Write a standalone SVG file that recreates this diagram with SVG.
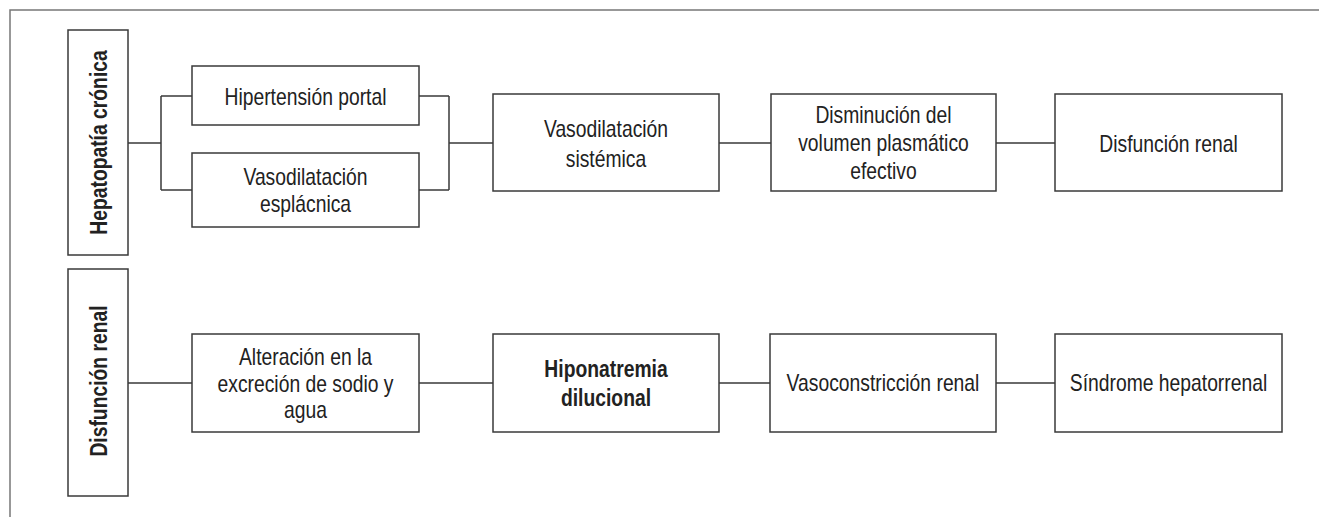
<svg xmlns="http://www.w3.org/2000/svg" width="1319" height="517" viewBox="0 0 1319 517">
<style>
.box{fill:#fff;stroke:#3a3a3a;stroke-width:1.5}
.ln{fill:none;stroke:#3a3a3a;stroke-width:1.5}
.frame{fill:none;stroke:#777;stroke-width:1.5}
text{font-family:"Liberation Sans",Arial,sans-serif;font-size:23px;fill:#222;text-anchor:middle}
.b{font-weight:bold}
</style>
<rect width="1319" height="517" fill="#fff"/>
<path class="frame" d="M10,517 V10 H1319"/>
<g id="connectors">
<path class="ln" d="M128,143 H161 M161,96 V190 M161,96 H192 M161,190 H192"/>
<path class="ln" d="M419,96 H449 M419,190 H449 M449,96 V190 M449,143 H493"/>
<path class="ln" d="M719,143 H771 M996,143 H1055"/>
<path class="ln" d="M128,383 H192 M419,383 H493 M719,383 H770 M996,383 H1055"/>
</g>
<g id="hepatopatia">
<rect class="box" x="68" y="30" width="60" height="225"/>
<text class="b" transform="translate(107 142.5) rotate(-90) scale(0.84 1)">Hepatopatía crónica</text>
</g>
<g id="hipertension">
<rect class="box" x="192" y="66" width="227" height="59"/>
<text transform="translate(305.5 0) scale(0.84 1)" y="105">Hipertensión portal</text>
</g>
<g id="vasodil-esplacnica">
<rect class="box" x="192" y="153" width="227" height="74"/>
<text transform="translate(305.5 0) scale(0.84 1)"><tspan x="0" y="185">Vasodilatación</tspan><tspan x="0" y="212">esplácnica</tspan></text>
</g>
<g id="vasodil-sistemica">
<rect class="box" x="493" y="94" width="226" height="97"/>
<text transform="translate(606 0) scale(0.84 1)"><tspan x="0" y="137.5">Vasodilatación</tspan><tspan x="0" y="167">sistémica</tspan></text>
</g>
<g id="disminucion">
<rect class="box" x="771" y="94" width="225" height="97"/>
<text transform="translate(883.5 0) scale(0.84 1)"><tspan x="0" y="123">Disminución del</tspan><tspan x="0" y="151">volumen plasmático</tspan><tspan x="0" y="179">efectivo</tspan></text>
</g>
<g id="disfuncion-top">
<rect class="box" x="1055" y="94" width="227" height="97"/>
<text transform="translate(1168.5 0) scale(0.84 1)" y="152">Disfunción renal</text>
</g>
<g id="disfuncion-vert">
<rect class="box" x="68" y="269" width="60" height="227"/>
<text class="b" transform="translate(107 381) rotate(-90) scale(0.84 1)">Disfunción renal</text>
</g>
<g id="alteracion">
<rect class="box" x="192" y="334" width="227" height="98"/>
<text transform="translate(305.5 0) scale(0.84 1)"><tspan x="0" y="365">Alteración en la</tspan><tspan x="0" y="392">excreción de sodio y</tspan><tspan x="0" y="418">agua</tspan></text>
</g>
<g id="hiponatremia">
<rect class="box" x="493" y="334" width="226" height="98"/>
<text class="b" transform="translate(606 0) scale(0.84 1)"><tspan x="0" y="377">Hiponatremia</tspan><tspan x="0" y="406">dilucional</tspan></text>
</g>
<g id="vasoconstriccion">
<rect class="box" x="770" y="334" width="226" height="98"/>
<text transform="translate(883 0) scale(0.84 1)" y="391.5">Vasoconstricción renal</text>
</g>
<g id="sindrome">
<rect class="box" x="1055" y="334" width="227" height="98"/>
<text transform="translate(1168.5 0) scale(0.84 1)" y="391.5">Síndrome hepatorrenal</text>
</g>
</svg>
